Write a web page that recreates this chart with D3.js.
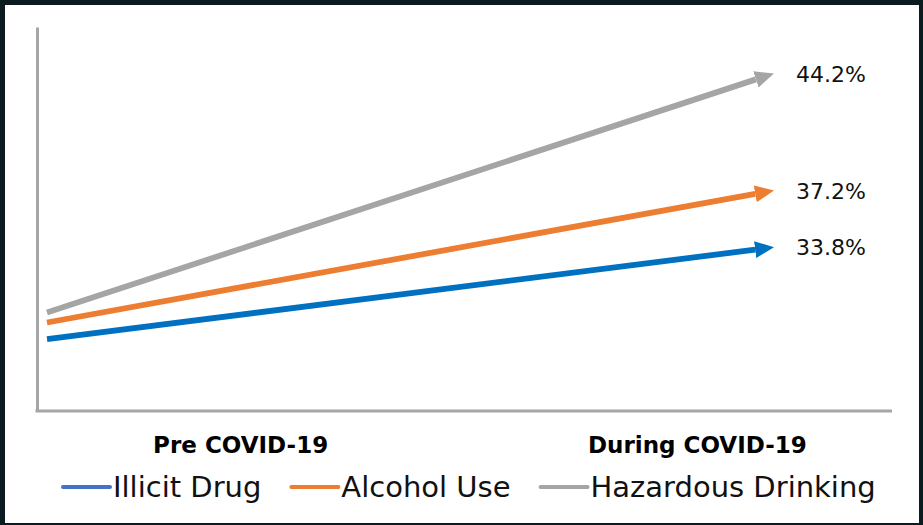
<!DOCTYPE html>
<html>
<head>
<meta charset="utf-8">
<script src="https://cdn.jsdelivr.net/npm/d3@7"></script>
<style>
  html, body { margin: 0; padding: 0; background: #0b1c21; }
  svg { display: block; }
</style>
</head>
<body>
<svg id="chart" width="923" height="525"></svg>
<script>
// Periods on the horizontal axis
const periods = ["Pre COVID-19", "During COVID-19"];

// Series names and colours
const seriesNames = ["Illicit Drug", "Alcohol Use", "Hazardous Drinking"];
const lineColors = ["#0070c0", "#ed7d31", "#a5a5a5"];
const legendColors = ["#4472c4", "#ed7d31", "#a5a5a5"];

// Prevalence (%) before and during the pandemic
const illicitDrug = [28.3, 33.8];
const alcoholUse = [29.3, 37.2];
const hazardousDrinking = [29.9, 44.2];

const seriesValues = [illicitDrug, alcoholUse, hazardousDrinking];

// Value labels for the "during" endpoint
const endLabels = ["33.8%", "37.2%", "44.2%"];

const W = 923, H = 525;
const svg = d3.select("#chart");

// Dark frame with white panel
svg.append("rect").attr("width", W).attr("height", H).attr("fill", "#0b1c21");
svg.append("rect").attr("x", 5).attr("y", 5).attr("width", 914).attr("height", 518).attr("fill", "#ffffff");

const plot = { left: 37, right: 892, top: 27, bottom: 411 };

// Scales
const y = d3.scaleLinear().domain([24, 47]).range([plot.bottom, plot.top]);
const xCat = d3.scalePoint().domain(periods).range([plot.left + 4, plot.right + 4]).padding(0.436);
const xLine = d3.scalePoint().domain(periods).range([47, 773]);

// Axes: plain grey spines, category labels under the x spine
const axisColor = "#a6a6a6";

const yAxis = svg.append("g")
  .attr("transform", `translate(${plot.left},0)`)
  .call(d3.axisLeft(y).tickValues([]).tickSizeOuter(0));
yAxis.select(".domain").attr("stroke", axisColor).attr("stroke-width", 3);

const xAxis = svg.append("g")
  .attr("transform", `translate(0,${plot.bottom})`)
  .call(d3.axisBottom(xCat).tickSize(0).tickSizeOuter(0).tickPadding(0));
xAxis.select(".domain")
  .attr("stroke", axisColor).attr("stroke-width", 3)
  .attr("d", `M${plot.left - 1.5},0H${plot.right}`);
xAxis.selectAll(".tick text")
  .attr("y", 42)
  .attr("dy", null)
  .attr("fill", "#000")
  .attr("font-family", "DejaVu Sans")
  .attr("font-weight", "bold")
  .attr("font-size", 23);

// Arrow heads
const headLen = 19, headHalf = 8.5;
const defs = svg.append("defs");
lineColors.forEach((c, i) => {
  defs.append("marker")
    .attr("id", "head" + i)
    .attr("markerUnits", "userSpaceOnUse")
    .attr("markerWidth", headLen + 2)
    .attr("markerHeight", headHalf * 2 + 2)
    .attr("viewBox", `0 ${-headHalf - 1} ${headLen + 2} ${headHalf * 2 + 2}`)
    .attr("refX", 0)
    .attr("refY", 0)
    .attr("orient", "auto")
    .append("path")
    .attr("d", `M0,${-headHalf}L${headLen},0L0,${headHalf}Z`)
    .attr("fill", c);
});

// Arrowed lines with their end-value labels
const lines = svg.append("g");
seriesValues.forEach((vals, i) => {
  const x0 = xLine(periods[0]), y0 = y(vals[0]);
  const x1 = xLine(periods[1]), y1 = y(vals[1]);
  const len = Math.hypot(x1 - x0, y1 - y0);
  const ux = (x1 - x0) / len, uy = (y1 - y0) / len;
  const back = headLen - 1;
  lines.append("line")
    .attr("x1", x0).attr("y1", y0)
    .attr("x2", x1 - ux * back).attr("y2", y1 - uy * back)
    .attr("stroke", lineColors[i])
    .attr("stroke-width", 5.8)
    .attr("marker-end", `url(#head${i})`);
  svg.append("text")
    .attr("x", x1 + 23)
    .attr("y", y1)
    .attr("dy", "0.36em")
    .attr("font-family", "DejaVu Sans")
    .attr("font-size", 22)
    .attr("fill", "#111")
    .text(endLabels[i]);
});

// Legend
const legend = svg.append("g").attr("transform", "translate(63,0)");
let lx = 0;
seriesNames.forEach((name, i) => {
  const g = legend.append("g").attr("transform", `translate(${lx},0)`);
  g.append("line")
    .attr("x1", 0).attr("x2", 47)
    .attr("y1", 487).attr("y2", 487)
    .attr("stroke", legendColors[i])
    .attr("stroke-width", 4)
    .attr("stroke-linecap", "round");
  const t = g.append("text")
    .attr("x", 50)
    .attr("y", 497)
    .attr("font-family", "DejaVu Sans")
    .attr("font-size", 29)
    .attr("fill", "#111")
    .text(name);
  lx += 50 + t.node().getComputedTextLength() + 30;
});
</script>
</body>
</html>
